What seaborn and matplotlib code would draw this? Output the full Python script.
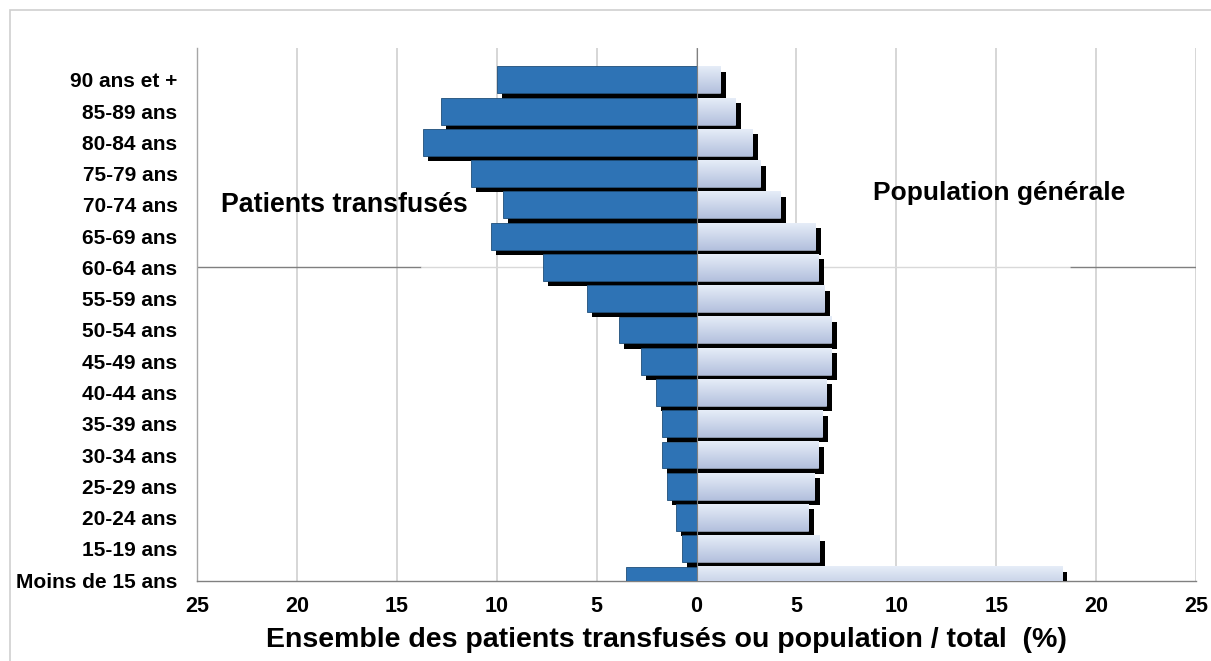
import matplotlib
matplotlib.use("Agg")
import matplotlib.pyplot as plt
import matplotlib.patheffects as pe
from matplotlib.colors import to_rgb
from matplotlib.patches import Rectangle
import numpy as np
import pandas as pd
import seaborn as sns

# Age groups, oldest first (top of the pyramid)
age_groups = ["90 ans et +", "85-89 ans", "80-84 ans", "75-79 ans", "70-74 ans",
              "65-69 ans", "60-64 ans", "55-59 ans", "50-54 ans", "45-49 ans",
              "40-44 ans", "35-39 ans", "30-34 ans", "25-29 ans", "20-24 ans",
              "15-19 ans", "Moins de 15 ans"]

# Share of each age group (%)
patients_pct = [10.0, 12.8, 13.7, 11.3, 9.7, 10.3, 7.7, 5.5, 3.9, 2.8,
                2.05, 1.75, 1.75, 1.5, 1.05, 0.75, 3.55]
population_pct = [1.2, 1.95, 2.8, 3.2, 4.2, 5.95, 6.1, 6.4, 6.75, 6.75,
                  6.5, 6.3, 6.1, 5.9, 5.6, 6.15, 18.3]

x_ticks = [-25, -20, -15, -10, -5, 0, 5, 10, 15, 20, 25]

df = pd.DataFrame({
    "age": age_groups,
    "patients": [-v for v in patients_pct],
    "population": population_pct,
})

sns.set_style("white")
plt.rcParams["font.family"] = ["Liberation Sans", "DejaVu Sans"]
plt.rcParams["text.color"] = "black"
plt.rcParams["axes.labelcolor"] = "black"

W, H = 1211, 661
fig = plt.figure(figsize=(W / 100, H / 100), dpi=100)
ax = fig.add_axes([197 / W, 1 - 581 / H, (1196 - 197) / W, (581 - 48) / H])

blue = "#2E73B5"
shadow = [pe.SimplePatchShadow(offset=(3.8, -3.8), shadow_rgbFace="black", alpha=1.0),
          pe.Normal()]

sns.barplot(data=df, y="age", x="patients", order=age_groups, orient="h",
            color=blue, saturation=1, width=0.86, edgecolor="#1F4E79",
            linewidth=0.6, ax=ax, zorder=3)
n_left = len(ax.patches)
sns.barplot(data=df, y="age", x="population", order=age_groups, orient="h",
            color="#CBD6EC", saturation=1, width=0.86, edgecolor="#AEB9D2",
            linewidth=0.4, ax=ax, zorder=3)

for p in ax.patches:
    p.set_path_effects(shadow)

# vertical light gradient inside the population bars
top_c = np.array(to_rgb("#E6EDF8"))
bot_c = np.array(to_rgb("#B3C0DD"))
t = np.linspace(0, 1, 64)[:, None, None]
grad = top_c * (1 - t) + bot_c * t
for p in ax.patches[n_left:]:
    x0, y0, w, h = p.get_x(), p.get_y(), p.get_width(), p.get_height()
    im = ax.imshow(grad, extent=(x0, x0 + w, y0 + h, y0), origin="upper",
                   aspect="auto", zorder=3.5, interpolation="bilinear")
    im.set_clip_path(p)
    im.set_clip_box(ax.bbox)

ax.set_xlim(-25, 25)
ax.set_ylim(len(age_groups) - 1 + 0.03, -1.02)

# horizontal reference line at the 60-64 group
yref = age_groups.index("60-64 ans")
ax.hlines(yref, -25, -13.8, color="#7F7F7F", lw=1, zorder=1)
ax.hlines(yref, -13.8, 18.7, color="#D9D9D9", lw=1, zorder=1)
ax.hlines(yref, 18.7, 25, color="#7F7F7F", lw=1, zorder=1)

for xv in x_ticks:
    ax.axvline(xv, color="#D0D0D0", lw=1.2, zorder=0.5)
ax.axvline(0, color="#808080", lw=0.8, zorder=4)

ax.set_xticks(x_ticks)
ax.set_xticklabels([str(abs(v)) for v in x_ticks], fontsize=15.5, fontweight="bold")
ax.tick_params(axis="x", direction="out", length=6, color="#808080", width=1,
               pad=5, labelcolor="black")
ax.tick_params(axis="y", length=0, pad=14, labelsize=15, labelcolor="black")
for lab in ax.get_yticklabels():
    lab.set_fontweight("bold")

ax.set_ylabel("")
ax.set_xlabel("Ensemble des patients transfusés ou population / total  (%)",
              fontsize=20.5, fontweight="bold")
ax.xaxis.set_label_coords((666 - 197) / (1196 - 197), -(640 - 581) / (581 - 48))
ax.xaxis.label.set_va("center")

for s in ["top", "right"]:
    ax.spines[s].set_visible(False)
ax.spines["left"].set_color("#A6A6A6")
ax.spines["bottom"].set_color("#808080")
ax.spines["left"].set_linewidth(1)
ax.spines["bottom"].set_linewidth(1)

ax.text(-17.6, 4.0, "Patients transfusés", fontsize=19.3, fontweight="bold",
        ha="center", va="center", zorder=6)
ax.text(15.15, 3.62, "Population générale", fontsize=19, fontweight="bold",
        ha="center", va="center", zorder=6)

# outer frame of the figure
fig.patches.append(Rectangle((10 / W, -0.05), 1.1, 1 - 10 / H + 0.05,
                             transform=fig.transFigure, fill=False,
                             edgecolor="#CFCFCF", lw=1.2))

fig.savefig("out.png", dpi=100)
